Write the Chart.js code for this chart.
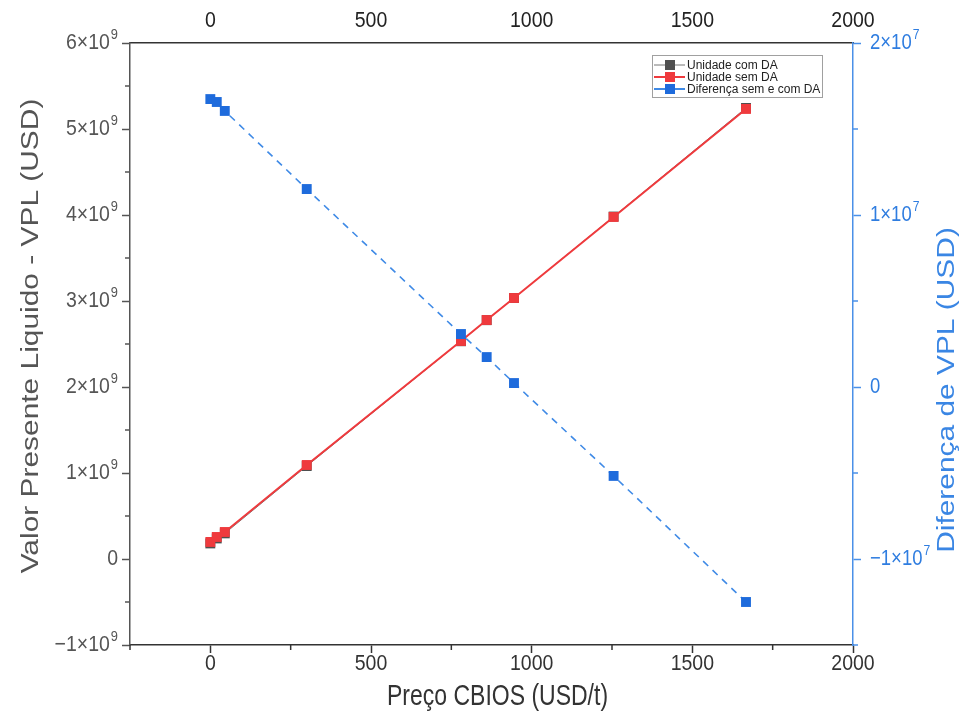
<!DOCTYPE html>
<html>
<head>
<meta charset="utf-8">
<script src="https://cdn.jsdelivr.net/npm/chart.js@4.4.1/dist/chart.umd.min.js"></script>
<style>
  html, body { margin: 0; padding: 0; background: #fff; }
</style>
</head>
<body>
<canvas id="vpl_chart" width="961" height="713"></canvas>
<script>
// CBIOS price (USD/t)
var price = [0, 20, 45, 300, 780, 860, 945, 1255, 1667]
// VPL (USD)
var vpl_com_da = [0.181e9, 0.239e9, 0.298e9, 1.081e9, 2.532e9, 2.777e9, 3.035e9, 3.982e9, 5.245e9]
var vpl_sem_da = [0.198e9, 0.256e9, 0.314e9, 1.093e9, 2.535e9, 2.779e9, 3.035e9, 3.977e9, 5.233e9]
// difference sem - com (USD), right axis
var vpl_diferenca = [1.674e7, 1.657e7, 1.605e7, 1.151e7, 0.308e7, 0.174e7, 0.023e7, -0.517e7, -1.25e7]

var series_labels = ['Unidade com DA', 'Unidade sem DA', 'Diferença sem e com DA']
var x_ticks = [0, 500, 1000, 1500, 2000]
var title_x = 'Preço CBIOS (USD/t)'
var title_y = 'Valor Presente Liquido - VPL (USD)'
var title_y2 = 'Diferença de VPL (USD)'

var FONT = '"Liberation Sans", Arial, sans-serif'
var TICK_SIZE = 19.5, TITLE_SIZE = 23, TICK_STRETCH = 1.15, TITLE_STRETCH = 1.3

var RED = '#ef3a3d', BLUE = '#1e6bdc', BLUE_LINE = '#3f8ae6', GRAY = '#4f4f4f'
var BLUE_AXIS = '#4a90e8', BLUE_TEXT = '#2f7de0'

function toPoints(xs, ys) {
    return xs.map((x, i) => ({x: x, y: ys[i]}))
}

// returns [base, exponent] or null when the tick gets no label
function sciLabel(v, exp) {
    let n = v / Math.pow(10, exp)
    if (Math.abs(n - Math.round(n)) > 1e-6) return null
    n = Math.round(n)
    if (n === 0) return ['0', '']
    return [(n < 0 ? '\u2212' : '') + Math.abs(n) + '\u00d710', String(exp)]
}

var labelFns = {
    x: v => x_ticks.includes(v) ? [String(v), ''] : null,
    x2: v => x_ticks.includes(v) ? [String(v), ''] : null,
    y: v => sciLabel(v, 9),
    y2: v => sciLabel(v, 7)
}

function fixWidth(w) { return scale => { scale.width = w } }
function fixHeight(h) { return scale => { scale.height = h } }
function majorColor(id, color) {
    return c => (c.tick && labelFns[id](c.tick.value)) ? color : 'rgba(0,0,0,0)'
}

// tick label with a raised exponent, drawn a little taller than wide
function tickText(ctx, parts, x, y, color, align, size) {
    size = size || TICK_SIZE
    const sup = size * 0.66
    ctx.save()
    ctx.font = size + 'px ' + FONT
    const wb = ctx.measureText(parts[0]).width
    ctx.font = sup + 'px ' + FONT
    const ws = parts[1] ? ctx.measureText(parts[1]).width + 1 : 0
    let x0 = x
    if (align === 'right') x0 = x - wb - ws
    else if (align === 'center') x0 = x - (wb + ws) / 2
    ctx.translate(x0, y)
    ctx.scale(1, TICK_STRETCH)
    ctx.fillStyle = color
    ctx.textAlign = 'left'
    ctx.textBaseline = 'middle'
    ctx.font = size + 'px ' + FONT
    ctx.fillText(parts[0], 0, 0)
    if (parts[1]) {
        ctx.font = sup + 'px ' + FONT
        ctx.fillText(parts[1], wb + 1, -size * 0.36)
    }
    ctx.restore()
}

function titleText(ctx, text, x, y, color, rotate) {
    ctx.save()
    ctx.translate(x, y)
    if (rotate) {
        ctx.rotate(-Math.PI / 2)
        ctx.scale(TITLE_STRETCH, 1)
    } else {
        ctx.scale(1, TITLE_STRETCH)
    }
    ctx.font = TITLE_SIZE + 'px ' + FONT
    ctx.fillStyle = color
    ctx.textAlign = 'center'
    ctx.textBaseline = 'middle'
    ctx.fillText(text, 0, 0)
    ctx.restore()
}

const axisText = {
    id: 'axisText',
    afterDraw(chart) {
        const ctx = chart.ctx, a = chart.chartArea, s = chart.scales
        // minor ticks, shorter than the major ones
        const minor = [['x', '#333'], ['y', '#555'], ['y2', BLUE_AXIS]]
        ctx.save()
        ctx.lineWidth = 1.5
        minor.forEach(([id, color]) => {
            ctx.strokeStyle = color
            s[id].ticks.forEach(t => {
                if (labelFns[id](t.value)) return
                const p = s[id].getPixelForValue(t.value)
                ctx.beginPath()
                if (id === 'x') { ctx.moveTo(p, a.bottom); ctx.lineTo(p, a.bottom + 5) }
                else if (id === 'y') { ctx.moveTo(a.left, p); ctx.lineTo(a.left - 5, p) }
                else { ctx.moveTo(a.right, p); ctx.lineTo(a.right + 5, p) }
                ctx.stroke()
            })
        })
        ctx.restore()

        s.x.ticks.forEach(t => {
            const l = labelFns.x(t.value)
            if (l) tickText(ctx, l, s.x.getPixelForValue(t.value), a.bottom + 19, '#333', 'center')
        })
        s.x2.ticks.forEach(t => {
            const l = labelFns.x2(t.value)
            if (l) tickText(ctx, l, s.x2.getPixelForValue(t.value), a.top - 22, '#222', 'center')
        })
        s.y.ticks.forEach(t => {
            const l = labelFns.y(t.value)
            if (l) tickText(ctx, l, a.left - 12, s.y.getPixelForValue(t.value), '#555', 'right')
        })
        s.y2.ticks.forEach(t => {
            const l = labelFns.y2(t.value)
            if (l) tickText(ctx, l, a.right + 17, s.y2.getPixelForValue(t.value), BLUE_TEXT, 'left', 18.5)
        })

        titleText(ctx, title_x, (a.left + a.right) / 2 + 6, a.bottom + 52, '#333')
        titleText(ctx, title_y, 32, (a.top + a.bottom) / 2 - 8, '#555', true)
        titleText(ctx, title_y2, a.right + 95, (a.top + a.bottom) / 2 + 46, '#3a86e4', true)
    }
}

// legend drawn inside the plot, like the original
const boxLegend = {
    id: 'boxLegend',
    afterDatasetsDraw(chart) {
        const ctx = chart.ctx, area = chart.chartArea
        const x0 = area.right - 201, y0 = area.top + 12, w = 170, h = 42
        ctx.save()
        ctx.fillStyle = '#fff'
        ctx.fillRect(x0, y0, w, h)
        ctx.strokeStyle = '#a0a0a0'
        ctx.lineWidth = 1
        ctx.strokeRect(x0 + 0.5, y0 + 0.5, w, h)
        ctx.font = '12px ' + FONT
        ctx.textBaseline = 'middle'
        chart.data.datasets.forEach((ds, row) => {
            const y = y0 + 10 + row * 12
            ctx.strokeStyle = ds.borderColor
            ctx.lineWidth = row === 0 ? 1 : 2
            ctx.beginPath(); ctx.moveTo(x0 + 2, y); ctx.lineTo(x0 + 33, y); ctx.stroke()
            ctx.fillStyle = ds.pointBackgroundColor
            ctx.fillRect(x0 + 13, y - 5, 10, 10)
            ctx.fillStyle = '#222'
            ctx.fillText(ds.label, x0 + 35, y + 0.5)
        })
        ctx.restore()
    }
}

new Chart(document.getElementById('vpl_chart').getContext('2d'), {
    type: 'line',
    data: {
        datasets: [{
            label: series_labels[0],
            data: toPoints(price, vpl_com_da),
            yAxisID: 'y',
            borderColor: '#777',
            borderWidth: 1,
            pointStyle: 'rect',
            pointRadius: 7,
            pointBackgroundColor: GRAY,
            pointBorderWidth: 0,
            order: 3
        }, {
            label: series_labels[1],
            data: toPoints(price, vpl_sem_da),
            yAxisID: 'y',
            borderColor: RED,
            borderWidth: 2,
            pointStyle: 'rect',
            pointRadius: 7,
            pointBackgroundColor: RED,
            pointBorderWidth: 0,
            order: 2
        }, {
            label: series_labels[2],
            data: toPoints(price, vpl_diferenca),
            yAxisID: 'y2',
            borderColor: BLUE_LINE,
            borderWidth: 1.6,
            borderDash: [7, 6],
            pointStyle: 'rect',
            pointRadius: 7,
            pointBackgroundColor: BLUE,
            pointBorderWidth: 0,
            order: 1
        }]
    },
    options: {
        responsive: false,
        devicePixelRatio: 1,
        animation: false,
        layout: { padding: 0 },
        plugins: {
            legend: { display: false },
            tooltip: { enabled: false }
        },
        scales: {
            x: {
                type: 'linear', position: 'bottom',
                min: -250, max: 2000,
                afterFit: fixHeight(68),
                border: { display: true, color: '#333', width: 1.5 },
                grid: { drawOnChartArea: false, drawTicks: true, tickLength: 8, tickWidth: 1.5, tickColor: majorColor('x', '#333') },
                ticks: { stepSize: 250, autoSkip: false, display: false }
            },
            x2: {
                type: 'linear', position: 'top',
                min: -250, max: 2000,
                afterFit: fixHeight(43),
                border: { display: true, color: '#333', width: 1.5 },
                grid: { drawOnChartArea: false, drawTicks: false },
                ticks: { stepSize: 250, autoSkip: false, display: false }
            },
            y: {
                type: 'linear', position: 'left',
                min: -1e9, max: 6e9,
                afterFit: fixWidth(130),
                border: { display: true, color: '#555', width: 1.5 },
                grid: { drawOnChartArea: false, drawTicks: true, tickLength: 8, tickWidth: 1.5, tickColor: majorColor('y', '#555') },
                ticks: { stepSize: 5e8, autoSkip: false, display: false }
            },
            y2: {
                type: 'linear', position: 'right',
                min: -1.5e7, max: 2e7,
                afterFit: fixWidth(108),
                border: { display: true, color: BLUE_AXIS, width: 1.5 },
                grid: { drawOnChartArea: false, drawTicks: true, tickLength: 8, tickWidth: 1.5, tickColor: majorColor('y2', BLUE_AXIS) },
                ticks: { stepSize: 5e6, autoSkip: false, display: false }
            }
        }
    },
    plugins: [boxLegend, axisText]
})
</script>
</body>
</html>
